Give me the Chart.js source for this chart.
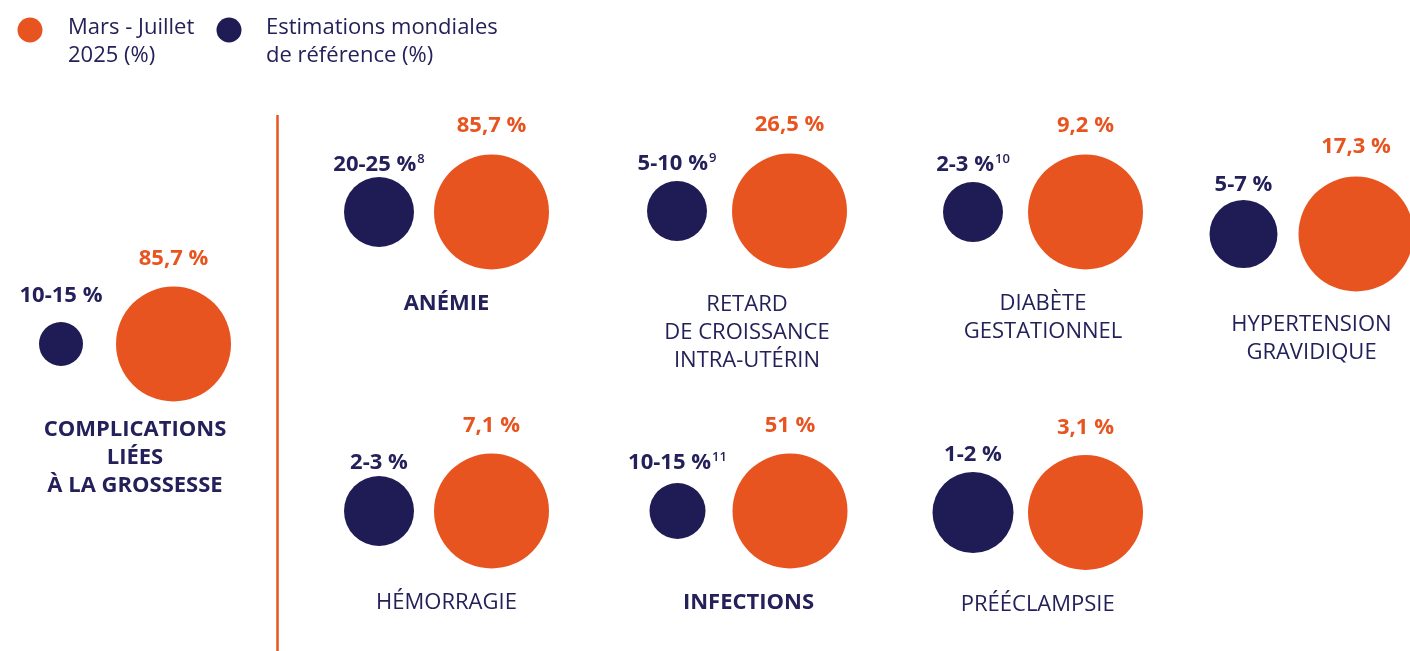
<!DOCTYPE html>
<html><head><meta charset="utf-8">
<script src="https://cdn.jsdelivr.net/npm/chart.js@4.4.1/dist/chart.umd.min.js"></script>
<style>html,body{margin:0;padding:0;background:#fff;overflow:hidden}#wrap{width:1410px;height:651px;position:relative}</style>
</head><body><div id="wrap"><canvas id="c" width="1410" height="651"></canvas></div>
<script>
// ---- data ----
const categories = [
  ['COMPLICATIONS', 'LIÉES', 'À LA GROSSESSE'],
  ['ANÉMIE'],
  ['RETARD', 'DE CROISSANCE', 'INTRA-UTÉRIN'],
  ['DIABÈTE', 'GESTATIONNEL'],
  ['HYPERTENSION', 'GRAVIDIQUE'],
  ['HÉMORRAGIE'],
  ['INFECTIONS'],
  ['PRÉÉCLAMPSIE']
];
const boldCategory = [true, true, false, false, false, false, true, false];
const marsJuillet2025 = [85.7, 85.7, 26.5, 9.2, 17.3, 7.1, 51, 3.1];
const referenceLow = [10, 20, 5, 2, 5, 2, 10, 1];
const referenceHigh = [15, 25, 10, 3, 7, 3, 15, 2];
const referenceNotes = ['', '8', '9', '10', '', '', '11', ''];
const legendLabels = [['Mars - Juillet', '2025 (%)'], ['Estimations mondiales', 'de référence (%)']];

// ---- layout (positions / sizes, not data) ----
const groupX = [173.5, 491.5, 789.5, 1085.5, 1356, 491.5, 790, 1085.5];
const groupY = [344, 212, 211, 212, 234, 511, 511, 512.5];
const pairGap = 112.5;
const orangeRadius = [57.5, 57.5, 57.5, 57.5, 57.5, 57.5, 57.5, 57.5];
const navyRadius = [22, 35, 30, 30, 34, 35, 28, 40.5];
const navyLabelOffset = [42, 41, 41, 41, 43, 42, 42, 52];
const orangeLabelOffset = [79, 80, 80, 80, 81, 79, 79, 79];
const categoryOffset = [92, 98, 100, 98, 97, 98, 98, 98];

const ORANGE = '#E8541F';
const NAVY = '#1F1B55';
const NAVY_TEXT = '#24215A';
const FONT = '"Open Sans", "Noto Sans", sans-serif';

const fmt = v => v.toLocaleString('fr-FR') + ' %';

const overlay = {
  id: 'overlay',
  afterDatasetsDraw(chart) {
    const ctx = chart.ctx;
    const xs = chart.scales.x, ys = chart.scales.y;
    const mO = chart.getDatasetMeta(0), mN = chart.getDatasetMeta(1);
    ctx.save();
    // divider
    ctx.strokeStyle = ORANGE; ctx.lineWidth = 2.5;
    ctx.beginPath();
    const dx = xs.getPixelForValue(277.5);
    ctx.moveTo(dx, ys.getPixelForValue(115)); ctx.lineTo(dx, ys.getPixelForValue(651));
    ctx.stroke();
    ctx.textBaseline = 'alphabetic';
    for (let i = 0; i < categories.length; i++) {
      const o = mO.data[i], n = mN.data[i];
      // orange value label
      ctx.font = '700 22px ' + FONT;
      ctx.fillStyle = ORANGE; ctx.textAlign = 'center';
      ctx.fillText(fmt(marsJuillet2025[i]), o.x, o.y - orangeLabelOffset[i]);
      // navy value label with note
      const base = referenceLow[i] + '-' + referenceHigh[i] + ' %';
      ctx.font = '700 22px ' + FONT;
      const wb = ctx.measureText(base).width;
      ctx.font = '600 13px ' + FONT;
      const note = referenceNotes[i];
      const wn = note ? ctx.measureText(note).width + 1 : 0;
      const sx = n.x - (wb + wn) / 2;
      const by = n.y - navyLabelOffset[i];
      ctx.textAlign = 'left'; ctx.fillStyle = NAVY_TEXT;
      ctx.font = '700 22px ' + FONT;
      ctx.fillText(base, sx, by);
      if (note) { ctx.font = '600 13px ' + FONT; ctx.fillText(note, sx + wb + 1, by - 8); }
      // category label
      const left = n.x - navyRadius[i], right = o.x + orangeRadius[i];
      const cx = (left + right) / 2;
      ctx.textAlign = 'center';
      ctx.font = (boldCategory[i] ? '700 ' : '400 ') + '22px ' + FONT;
      categories[i].forEach((line, k) => {
        ctx.fillText(line, cx, o.y + categoryOffset[i] + k * 28);
      });
    }
    // legend
    const legendColors = [ORANGE, NAVY];
    const lx = [30, 229], tx = [68, 266];
    legendColors.forEach((c, j) => {
      ctx.fillStyle = c;
      ctx.beginPath(); ctx.arc(lx[j], 30, 12.5, 0, Math.PI * 2); ctx.fill();
      ctx.fillStyle = NAVY_TEXT; ctx.textAlign = 'left';
      ctx.font = '400 22px ' + FONT;
      legendLabels[j].forEach((t, k) => ctx.fillText(t, tx[j], 34 + k * 28));
    });
    ctx.restore();
  }
};

new Chart(document.getElementById('c'), {
  type: 'bubble',
  data: {
    datasets: [
      {
        label: legendLabels[0].join(' '),
        data: marsJuillet2025.map((v, i) => ({ x: groupX[i], y: groupY[i], r: orangeRadius[i], v })),
        backgroundColor: ORANGE, borderWidth: 0, hoverRadius: 0, clip: false
      },
      {
        label: legendLabels[1].join(' '),
        data: referenceLow.map((v, i) => ({ x: groupX[i] - pairGap, y: groupY[i], r: navyRadius[i], v })),
        backgroundColor: NAVY, borderWidth: 0, hoverRadius: 0, clip: false
      }
    ]
  },
  options: {
    responsive: false, devicePixelRatio: 1, animation: false, events: [],
    layout: { padding: 0, autoPadding: false },
    plugins: { legend: { display: false }, tooltip: { enabled: false } },
    scales: {
      x: { type: 'linear', display: false, min: 0, max: 1410 },
      y: { type: 'linear', display: false, min: 0, max: 651, reverse: true }
    }
  },
  plugins: [overlay]
});
</script></body></html>
